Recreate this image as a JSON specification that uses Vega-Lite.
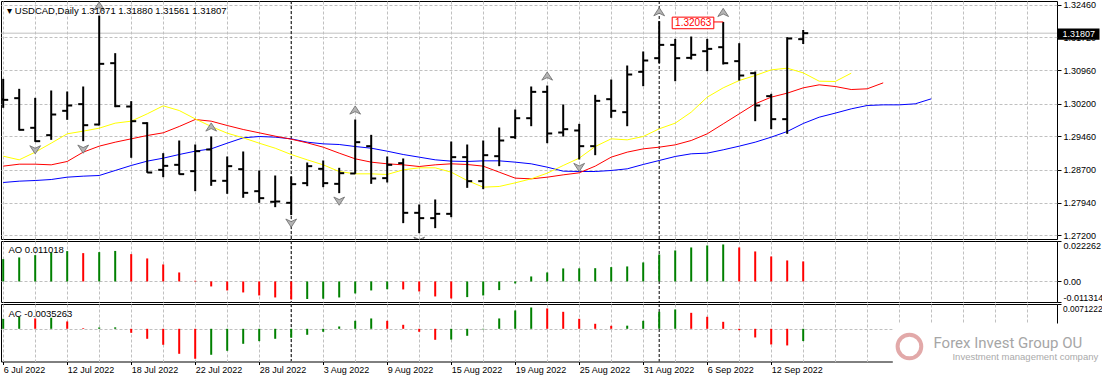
{
"$schema": "https://vega.github.io/schema/vega-lite/v6.json",
"padding": 0,
"background": "#ffffff",
"spacing": 2,
"bounds": "flush",
"datasets": {
"bars": [
{"i":0,"date":"2022-07-06","o":1.30300,"h":1.30767,"l":1.30107,"c":1.30289,"ao":0.01229,"aoT":"up","ac":0.00287,"acT":"up"},
{"i":1,"date":"2022-07-07","o":1.30327,"h":1.30540,"l":1.29591,"c":1.29606,"ao":0.01321,"aoT":"up","ac":0.00345,"acT":"up"},
{"i":2,"date":"2022-07-08","o":1.29652,"h":1.30335,"l":1.29333,"c":1.29348,"ao":0.01449,"aoT":"up","ac":0.00297,"acT":"down"},
{"i":3,"date":"2022-07-11","o":1.29485,"h":1.30502,"l":1.29378,"c":1.29955,"ao":0.01596,"aoT":"up","ac":0.00316,"acT":"up"},
{"i":4,"date":"2022-07-12","o":1.30039,"h":1.30479,"l":1.29834,"c":1.30160,"ao":0.01670,"aoT":"up","ac":0.00211,"acT":"down"},
{"i":5,"date":"2022-07-13","o":1.30191,"h":1.30593,"l":1.29348,"c":1.29712,"ao":0.01559,"aoT":"down","ac":0.00019,"acT":"down"},
{"i":6,"date":"2022-07-14","o":1.29727,"h":1.32209,"l":1.29705,"c":1.31109,"ao":0.01614,"aoT":"up","ac":0.00038,"acT":"up"},
{"i":7,"date":"2022-07-15","o":1.31124,"h":1.31352,"l":1.30122,"c":1.30145,"ao":0.01680,"aoT":"up","ac":0.00042,"acT":"up"},
{"i":8,"date":"2022-07-18","o":1.30137,"h":1.30259,"l":1.28969,"c":1.29803,"ao":0.01504,"aoT":"down","ac":-0.00115,"acT":"down"},
{"i":9,"date":"2022-07-19","o":1.29758,"h":1.29780,"l":1.28627,"c":1.28634,"ao":0.01266,"aoT":"down","ac":-0.00287,"acT":"down"},
{"i":10,"date":"2022-07-20","o":1.28695,"h":1.29075,"l":1.28528,"c":1.28786,"ao":0.00936,"aoT":"down","ac":-0.00459,"acT":"down"},
{"i":11,"date":"2022-07-21","o":1.28809,"h":1.29363,"l":1.28589,"c":1.28597,"ao":0.00495,"aoT":"down","ac":-0.00718,"acT":"down"},
{"i":12,"date":"2022-07-22","o":1.28665,"h":1.29272,"l":1.28209,"c":1.29120,"ao":0.00037,"aoT":"down","ac":-0.00861,"acT":"down"},
{"i":13,"date":"2022-07-25","o":1.29158,"h":1.29454,"l":1.28331,"c":1.28445,"ao":-0.00275,"aoT":"down","ac":-0.00746,"acT":"up"},
{"i":14,"date":"2022-07-26","o":1.28445,"h":1.28999,"l":1.28149,"c":1.28779,"ao":-0.00495,"aoT":"down","ac":-0.00632,"acT":"up"},
{"i":15,"date":"2022-07-27","o":1.28710,"h":1.29113,"l":1.28058,"c":1.28171,"ao":-0.00605,"aoT":"down","ac":-0.00431,"acT":"up"},
{"i":16,"date":"2022-07-28","o":1.28209,"h":1.28680,"l":1.27944,"c":1.28050,"ao":-0.00771,"aoT":"down","ac":-0.00354,"acT":"up"},
{"i":17,"date":"2022-07-29","o":1.27967,"h":1.28566,"l":1.27845,"c":1.27974,"ao":-0.00881,"aoT":"down","ac":-0.00287,"acT":"up"},
{"i":18,"date":"2022-08-01","o":1.27944,"h":1.28543,"l":1.27663,"c":1.28369,"ao":-0.00991,"aoT":"down","ac":-0.00258,"acT":"up"},
{"i":19,"date":"2022-08-02","o":1.28392,"h":1.28862,"l":1.28323,"c":1.28779,"ao":-0.00965,"aoT":"up","ac":-0.00172,"acT":"up"},
{"i":20,"date":"2022-08-03","o":1.28718,"h":1.28908,"l":1.28301,"c":1.28392,"ao":-0.00950,"aoT":"up","ac":-0.00086,"acT":"up"},
{"i":21,"date":"2022-08-04","o":1.28376,"h":1.28741,"l":1.28164,"c":1.28619,"ao":-0.00881,"aoT":"up","ac":0.00067,"acT":"up"},
{"i":22,"date":"2022-08-05","o":1.28612,"h":1.29841,"l":1.28604,"c":1.29325,"ao":-0.00660,"aoT":"up","ac":0.00230,"acT":"up"},
{"i":23,"date":"2022-08-08","o":1.29234,"h":1.29492,"l":1.28376,"c":1.28498,"ao":-0.00495,"aoT":"up","ac":0.00297,"acT":"up"},
{"i":24,"date":"2022-08-09","o":1.28506,"h":1.28999,"l":1.28407,"c":1.28809,"ao":-0.00430,"aoT":"up","ac":0.00230,"acT":"down"},
{"i":25,"date":"2022-08-10","o":1.28847,"h":1.28954,"l":1.27481,"c":1.27716,"ao":-0.00440,"aoT":"down","ac":0.00115,"acT":"down"},
{"i":26,"date":"2022-08-11","o":1.27716,"h":1.27906,"l":1.27253,"c":1.27595,"ao":-0.00550,"aoT":"down","ac":-0.00086,"acT":"down"},
{"i":27,"date":"2022-08-12","o":1.27595,"h":1.28020,"l":1.27367,"c":1.27693,"ao":-0.00826,"aoT":"down","ac":-0.00316,"acT":"down"},
{"i":28,"date":"2022-08-15","o":1.27693,"h":1.29340,"l":1.27617,"c":1.28984,"ao":-0.00936,"aoT":"down","ac":-0.00310,"acT":"up"},
{"i":29,"date":"2022-08-16","o":1.28984,"h":1.29272,"l":1.28285,"c":1.28437,"ao":-0.00862,"aoT":"up","ac":-0.00201,"acT":"up"},
{"i":30,"date":"2022-08-17","o":1.28437,"h":1.29363,"l":1.28255,"c":1.29029,"ao":-0.00771,"aoT":"up","ac":-0.00015,"acT":"up"},
{"i":31,"date":"2022-08-18","o":1.29006,"h":1.29659,"l":1.28779,"c":1.29363,"ao":-0.00477,"aoT":"up","ac":0.00297,"acT":"up"},
{"i":32,"date":"2022-08-19","o":1.29439,"h":1.30069,"l":1.29401,"c":1.29871,"ao":-0.00110,"aoT":"up","ac":0.00526,"acT":"up"},
{"i":33,"date":"2022-08-22","o":1.29871,"h":1.30593,"l":1.29689,"c":1.30471,"ao":0.00275,"aoT":"up","ac":0.00612,"acT":"up"},
{"i":34,"date":"2022-08-23","o":1.30471,"h":1.30615,"l":1.29302,"c":1.29523,"ao":0.00495,"aoT":"up","ac":0.00584,"acT":"down"},
{"i":35,"date":"2022-08-24","o":1.29545,"h":1.30183,"l":1.29454,"c":1.29621,"ao":0.00716,"aoT":"up","ac":0.00488,"acT":"down"},
{"i":36,"date":"2022-08-25","o":1.29591,"h":1.29742,"l":1.28931,"c":1.29234,"ao":0.00722,"aoT":"up","ac":0.00287,"acT":"down"},
{"i":37,"date":"2022-08-26","o":1.29234,"h":1.30403,"l":1.29029,"c":1.30266,"ao":0.00730,"aoT":"up","ac":0.00144,"acT":"down"},
{"i":38,"date":"2022-08-29","o":1.30304,"h":1.30752,"l":1.29879,"c":1.30039,"ao":0.00789,"aoT":"up","ac":0.00086,"acT":"down"},
{"i":39,"date":"2022-08-30","o":1.30008,"h":1.31071,"l":1.29689,"c":1.30866,"ao":0.00826,"aoT":"up","ac":0.00090,"acT":"up"},
{"i":40,"date":"2022-08-31","o":1.30927,"h":1.31390,"l":1.30600,"c":1.31185,"ao":0.01046,"aoT":"up","ac":0.00230,"acT":"up"},
{"i":41,"date":"2022-09-01","o":1.31238,"h":1.32080,"l":1.31124,"c":1.31541,"ao":0.01486,"aoT":"up","ac":0.00488,"acT":"up"},
{"i":42,"date":"2022-09-02","o":1.31541,"h":1.31678,"l":1.30714,"c":1.31238,"ao":0.01706,"aoT":"up","ac":0.00555,"acT":"up"},
{"i":43,"date":"2022-09-05","o":1.31245,"h":1.31731,"l":1.31208,"c":1.31314,"ao":0.01871,"aoT":"up","ac":0.00459,"acT":"down"},
{"i":44,"date":"2022-09-06","o":1.31397,"h":1.31678,"l":1.30942,"c":1.31450,"ao":0.01981,"aoT":"up","ac":0.00345,"acT":"down"},
{"i":45,"date":"2022-09-07","o":1.31488,"h":1.32063,"l":1.31094,"c":1.31124,"ao":0.02036,"aoT":"up","ac":0.00201,"acT":"down"},
{"i":46,"date":"2022-09-08","o":1.31170,"h":1.31579,"l":1.30729,"c":1.30843,"ao":0.01871,"aoT":"down","ac":-0.00040,"acT":"down"},
{"i":47,"date":"2022-09-09","o":1.30896,"h":1.30934,"l":1.29803,"c":1.30160,"ao":0.01651,"aoT":"down","ac":-0.00249,"acT":"down"},
{"i":48,"date":"2022-09-12","o":1.30373,"h":1.30426,"l":1.29621,"c":1.29849,"ao":0.01376,"aoT":"down","ac":-0.00450,"acT":"down"},
{"i":49,"date":"2022-09-13","o":1.29849,"h":1.31716,"l":1.29515,"c":1.31686,"ao":0.01156,"aoT":"down","ac":-0.00478,"acT":"down"},
{"i":50,"date":"2022-09-14","o":1.31671,"h":1.31880,"l":1.31561,"c":1.31807,"ao":0.011018,"aoT":"down","ac":-0.0035263,"acT":"up"}
],
"allig": [
{"i":0,"jaw":1.28407,"teeth":1.28779,"lips":1.29006},
{"i":1,"jaw":1.28437,"teeth":1.28824,"lips":1.28923},
{"i":2,"jaw":1.28452,"teeth":1.28824,"lips":1.29098},
{"i":3,"jaw":1.28475,"teeth":1.28809,"lips":1.29302},
{"i":4,"jaw":1.28528,"teeth":1.28885,"lips":1.29515},
{"i":5,"jaw":1.28551,"teeth":1.29098,"lips":1.29576},
{"i":6,"jaw":1.28566,"teeth":1.29234,"lips":1.29644},
{"i":7,"jaw":1.28680,"teeth":1.29325,"lips":1.29758},
{"i":8,"jaw":1.28794,"teeth":1.29401,"lips":1.29803},
{"i":9,"jaw":1.28893,"teeth":1.29477,"lips":1.29970},
{"i":10,"jaw":1.28961,"teeth":1.29538,"lips":1.30153},
{"i":11,"jaw":1.29044,"teeth":1.29682,"lips":1.30046},
{"i":12,"jaw":1.29120,"teeth":1.29841,"lips":1.29856},
{"i":13,"jaw":1.29173,"teeth":1.29803,"lips":1.29682},
{"i":14,"jaw":1.29302,"teeth":1.29705,"lips":1.29530},
{"i":15,"jaw":1.29424,"teeth":1.29614,"lips":1.29424},
{"i":16,"jaw":1.29454,"teeth":1.29538,"lips":1.29302},
{"i":17,"jaw":1.29439,"teeth":1.29462,"lips":1.29188},
{"i":18,"jaw":1.29401,"teeth":1.29393,"lips":1.29044},
{"i":19,"jaw":1.29325,"teeth":1.29310,"lips":1.28923},
{"i":20,"jaw":1.29287,"teeth":1.29211,"lips":1.28809},
{"i":21,"jaw":1.29272,"teeth":1.29075,"lips":1.28657},
{"i":22,"jaw":1.29226,"teeth":1.28946,"lips":1.28604},
{"i":23,"jaw":1.29188,"teeth":1.28870,"lips":1.28604},
{"i":24,"jaw":1.29120,"teeth":1.28832,"lips":1.28589},
{"i":25,"jaw":1.29044,"teeth":1.28809,"lips":1.28695},
{"i":26,"jaw":1.28984,"teeth":1.28771,"lips":1.28741},
{"i":27,"jaw":1.28923,"teeth":1.28809,"lips":1.28741},
{"i":28,"jaw":1.28893,"teeth":1.28832,"lips":1.28642},
{"i":29,"jaw":1.28885,"teeth":1.28817,"lips":1.28452},
{"i":30,"jaw":1.28900,"teeth":1.28779,"lips":1.28301},
{"i":31,"jaw":1.28900,"teeth":1.28642,"lips":1.28316},
{"i":32,"jaw":1.28870,"teeth":1.28506,"lips":1.28399},
{"i":33,"jaw":1.28832,"teeth":1.28490,"lips":1.28490},
{"i":34,"jaw":1.28756,"teeth":1.28528,"lips":1.28619},
{"i":35,"jaw":1.28665,"teeth":1.28581,"lips":1.28794},
{"i":36,"jaw":1.28657,"teeth":1.28627,"lips":1.28961},
{"i":37,"jaw":1.28657,"teeth":1.28779,"lips":1.29226},
{"i":38,"jaw":1.28680,"teeth":1.28984,"lips":1.29401},
{"i":39,"jaw":1.28718,"teeth":1.29098,"lips":1.29378},
{"i":40,"jaw":1.28817,"teeth":1.29173,"lips":1.29454},
{"i":41,"jaw":1.28908,"teeth":1.29211,"lips":1.29629},
{"i":42,"jaw":1.28999,"teeth":1.29264,"lips":1.29758},
{"i":43,"jaw":1.29060,"teeth":1.29363,"lips":1.30008},
{"i":44,"jaw":1.29075,"teeth":1.29515,"lips":1.30350},
{"i":45,"jaw":1.29151,"teeth":1.29742,"lips":1.30562},
{"i":46,"jaw":1.29234,"teeth":1.29970,"lips":1.30729},
{"i":47,"jaw":1.29325,"teeth":1.30198,"lips":1.30843},
{"i":48,"jaw":1.29439,"teeth":1.30350,"lips":1.30972},
{"i":49,"jaw":1.29568,"teeth":1.30441,"lips":1.31010},
{"i":50,"jaw":1.29750,"teeth":1.30562,"lips":1.30904},
{"i":51,"jaw":1.29894,"teeth":1.30631,"lips":1.30714},
{"i":52,"jaw":1.29986,"teeth":1.30593,"lips":1.30707},
{"i":53,"jaw":1.30084,"teeth":1.30524,"lips":1.30896},
{"i":54,"jaw":1.30160,"teeth":1.30540,"lips":null},
{"i":55,"jaw":1.30175,"teeth":1.30676,"lips":null},
{"i":56,"jaw":1.30175,"teeth":null,"lips":null},
{"i":57,"jaw":1.30198,"teeth":null,"lips":null},
{"i":58,"jaw":1.30312,"teeth":null,"lips":null}
],
"fractals": [
{"i":6,"price":1.32209,"type":"up"},
{"i":13,"price":1.29454,"type":"up"},
{"i":22,"price":1.29841,"type":"up"},
{"i":34,"price":1.30615,"type":"up"},
{"i":41,"price":1.32080,"type":"up"},
{"i":45,"price":1.32063,"type":"up"},
{"i":2,"price":1.29333,"type":"down"},
{"i":5,"price":1.29348,"type":"down"},
{"i":18,"price":1.27663,"type":"down"},
{"i":21,"price":1.28164,"type":"down"},
{"i":26,"price":1.27253,"type":"down"},
{"i":36,"price":1.28931,"type":"down"}
],
"seps": [{"i":18,"month":"Aug 2022"},{"i":41,"month":"Sep 2022"}]
},
"vconcat": [
{
"width": 1056, "height": 238,
"layer": [
{"data": {"values": [{"price": 1.31807}]}, "mark": {"type": "rule", "color": "#c0c0c0", "strokeWidth": 1},
 "encoding": {"y": {"field": "price", "type": "quantitative", "title": null, "scale": {"domain": [1.2712, 1.3254], "nice": false, "zero": false},
  "axis": {"orient": "right", "values": [1.272, 1.2794, 1.287, 1.2946, 1.302, 1.3096, 1.3172, 1.3246], "tickCount": 100, "format": ".5f", "grid": true, "gridColor": "#c0c0c0", "gridDash": [3,2], "domain": false, "ticks": true, "tickSize": 4, "tickColor": "#000000", "labelPadding": 2, "labelOverlap": false, "labelBound": false, "title": null}}}},
{"data": {"name": "seps"}, "mark": {"type": "rule", "color": "#000000", "strokeDash": [3,2], "strokeWidth": 1},
 "encoding": {"x": {"field": "i", "type": "quantitative", "title": null, "scale": {"domain": [-0.1375, 65.8625], "nice": false, "zero": false},
  "axis": {"values": [0,2,4,6,8,10,12,14,16,18,20,22,24,26,28,30,32,34,36,38,40,42,44,46,48,50,52,54,56,58,60,62,64], "tickCount": 100, "grid": true, "gridColor": "#c0c0c0", "gridDash": [3,2], "labels": false, "ticks": false, "domain": false, "labelOverlap": false, "title": null}}}},
{"data": {"name": "allig"}, "mark": {"type": "line", "color": "#0000ff", "strokeWidth": 1, "clip": true},
 "encoding": {"x": {"field": "i", "type": "quantitative", "title": null, "scale": {"domain": [-0.1375, 65.8625], "nice": false, "zero": false}},
  "y": {"field": "jaw", "type": "quantitative", "title": null, "scale": {"domain": [1.2712, 1.3254], "nice": false, "zero": false}}}},
{"data": {"name": "allig"}, "mark": {"type": "line", "color": "#ff0000", "strokeWidth": 1, "clip": true},
 "encoding": {"x": {"field": "i", "type": "quantitative", "title": null, "scale": {"domain": [-0.1375, 65.8625], "nice": false, "zero": false}},
  "y": {"field": "teeth", "type": "quantitative", "title": null, "scale": {"domain": [1.2712, 1.3254], "nice": false, "zero": false}}}},
{"data": {"name": "allig"}, "mark": {"type": "line", "color": "#ffff00", "strokeWidth": 1, "clip": true},
 "encoding": {"x": {"field": "i", "type": "quantitative", "title": null, "scale": {"domain": [-0.1375, 65.8625], "nice": false, "zero": false}},
  "y": {"field": "lips", "type": "quantitative", "title": null, "scale": {"domain": [1.2712, 1.3254], "nice": false, "zero": false}}}},
{"data": {"name": "bars"}, "mark": {"type": "rule", "color": "#000000", "strokeWidth": 2, "clip": true},
 "encoding": {"x": {"field": "i", "type": "quantitative", "title": null, "scale": {"domain": [-0.1375, 65.8625], "nice": false, "zero": false}},
  "y": {"field": "l", "type": "quantitative", "title": null, "scale": {"domain": [1.2712, 1.3254], "nice": false, "zero": false}},
  "y2": {"field": "h"}}},
{"data": {"name": "bars"}, "mark": {"type": "rule", "color": "#000000", "strokeWidth": 2, "xOffset": -5, "x2Offset": 0, "clip": true},
 "encoding": {"x": {"field": "i", "type": "quantitative", "title": null, "scale": {"domain": [-0.1375, 65.8625], "nice": false, "zero": false}},
  "x2": {"field": "i"},
  "y": {"field": "o", "type": "quantitative", "title": null, "scale": {"domain": [1.2712, 1.3254], "nice": false, "zero": false}}}},
{"data": {"name": "bars"}, "mark": {"type": "rule", "color": "#000000", "strokeWidth": 2, "xOffset": 0, "x2Offset": 5, "clip": true},
 "encoding": {"x": {"field": "i", "type": "quantitative", "title": null, "scale": {"domain": [-0.1375, 65.8625], "nice": false, "zero": false}},
  "x2": {"field": "i"},
  "y": {"field": "c", "type": "quantitative", "title": null, "scale": {"domain": [1.2712, 1.3254], "nice": false, "zero": false}}}},
{"data": {"name": "fractals"}, "transform": [{"filter": "datum.type === 'up'"}],
 "mark": {"type": "point", "shape": "M0,-0.65 L0.85,0.65 L0,0.25 L-0.85,0.65 Z", "size": 160, "filled": true, "fill": "#b4b4b4", "stroke": "#6a6a6a", "strokeWidth": 0.8, "opacity": 1, "yOffset": -9.5, "clip": true},
 "encoding": {"x": {"field": "i", "type": "quantitative", "title": null, "scale": {"domain": [-0.1375, 65.8625], "nice": false, "zero": false}},
  "y": {"field": "price", "type": "quantitative", "title": null, "scale": {"domain": [1.2712, 1.3254], "nice": false, "zero": false}}}},
{"data": {"name": "fractals"}, "transform": [{"filter": "datum.type === 'down'"}],
 "mark": {"type": "point", "shape": "M0,0.65 L0.85,-0.65 L0,-0.25 L-0.85,-0.65 Z", "size": 160, "filled": true, "fill": "#b4b4b4", "stroke": "#6a6a6a", "strokeWidth": 0.8, "opacity": 1, "yOffset": 8, "clip": true},
 "encoding": {"x": {"field": "i", "type": "quantitative", "title": null, "scale": {"domain": [-0.1375, 65.8625], "nice": false, "zero": false}},
  "y": {"field": "price", "type": "quantitative", "title": null, "scale": {"domain": [1.2712, 1.3254], "nice": false, "zero": false}}}},
{"data": {"values": [{"i": 45, "price": 1.32063, "label": "1.32063"}]},
 "mark": {"type": "point", "shape": "M-1,-0.094 L-0.184,-0.094 L-0.184,0.133 L-1,0.133 Z M-0.184,0 L0,0", "size": 10404, "filled": false, "fill": "#ffffff", "fillOpacity": 1, "stroke": "#ff0000", "strokeWidth": 1, "opacity": 1},
 "encoding": {"x": {"field": "i", "type": "quantitative", "title": null, "scale": {"domain": [-0.1375, 65.8625], "nice": false, "zero": false}},
  "y": {"field": "price", "type": "quantitative", "title": null, "scale": {"domain": [1.2712, 1.3254], "nice": false, "zero": false}}}},
{"data": {"values": [{"i": 45, "price": 1.32063, "label": "1.32063"}]},
 "mark": {"type": "text", "color": "#ff0000", "font": "Liberation Sans", "fontSize": 10, "align": "center", "baseline": "middle", "xOffset": -30, "yOffset": 1},
 "encoding": {"x": {"field": "i", "type": "quantitative", "title": null, "scale": {"domain": [-0.1375, 65.8625], "nice": false, "zero": false}},
  "y": {"field": "price", "type": "quantitative", "title": null, "scale": {"domain": [1.2712, 1.3254], "nice": false, "zero": false}},
  "text": {"field": "label"}}},
{"data": {"values": [{"label": "▾ USDCAD,Daily  1.31671 1.31880 1.31561 1.31807"}]},
 "mark": {"type": "text", "color": "#000000", "font": "Liberation Sans", "fontSize": 9.5, "align": "left", "baseline": "alphabetic"},
 "encoding": {"x": {"datum": 0.25, "type": "quantitative", "title": null, "scale": {"domain": [-0.1375, 65.8625], "nice": false, "zero": false}},
  "y": {"datum": 1.32244, "type": "quantitative", "title": null, "scale": {"domain": [1.2712, 1.3254], "nice": false, "zero": false}},
  "text": {"field": "label"}}},
{"data": {"values": [{"price": 1.31807, "label": "1.31807"}]},
 "mark": {"type": "point", "shape": "M-1,-0.27 L1,-0.27 L1,0.27 L-1,0.27 Z", "size": 1764, "filled": true, "fill": "#000000", "opacity": 1, "xOffset": 21.5, "yOffset": 1},
 "encoding": {"x": {"value": "width"},
  "y": {"field": "price", "type": "quantitative", "title": null, "scale": {"domain": [1.2712, 1.3254], "nice": false, "zero": false}}}},
{"data": {"values": [{"price": 1.31807, "label": "1.31807"}]},
 "mark": {"type": "text", "color": "#ffffff", "font": "Liberation Sans", "fontSize": 9, "align": "left", "baseline": "middle", "dx": 5.5, "yOffset": 1},
 "encoding": {"x": {"value": "width"},
  "y": {"field": "price", "type": "quantitative", "title": null, "scale": {"domain": [1.2712, 1.3254], "nice": false, "zero": false}},
  "text": {"field": "label"}}}
]
},
{
"width": 1056, "height": 61,
"layer": [
{"data": {"name": "seps"}, "mark": {"type": "rule", "color": "#000000", "strokeDash": [3,2], "strokeWidth": 1},
 "encoding": {"x": {"field": "i", "type": "quantitative", "title": null, "scale": {"domain": [-0.1375, 65.8625], "nice": false, "zero": false},
  "axis": {"values": [0,2,4,6,8,10,12,14,16,18,20,22,24,26,28,30,32,34,36,38,40,42,44,46,48,50,52,54,56,58,60,62,64], "tickCount": 100, "grid": true, "gridColor": "#c0c0c0", "gridDash": [3,2], "labels": false, "ticks": false, "domain": false, "labelOverlap": false, "title": null}}}},
{"data": {"name": "bars"}, "mark": {"type": "rule", "strokeWidth": 2},
 "encoding": {"x": {"field": "i", "type": "quantitative", "title": null, "scale": {"domain": [-0.1375, 65.8625], "nice": false, "zero": false}},
  "y": {"field": "ao", "type": "quantitative", "title": null, "scale": {"domain": [-0.011314, 0.022262], "nice": false, "zero": false},
   "axis": {"orient": "right", "values": [-0.011314, 0, 0.022262], "tickCount": 100, "labelExpr": "datum.value === 0 ? '0.00' : (datum.value < 0 ? '-' + format(-datum.value, '.6f') : format(datum.value, '.6f'))", "labelFlush": true, "labelOverlap": false, "labelBound": false, "grid": true, "gridColor": "#c0c0c0", "gridDash": [3,2], "gridOpacity": {"condition": {"test": "datum.value === 0", "value": 1}, "value": 0}, "domain": false, "tickSize": 4, "tickColor": "#000000", "labelPadding": 2, "title": null}},
  "y2": {"datum": 0},
  "color": {"field": "aoT", "type": "nominal", "scale": {"domain": ["up", "down"], "range": ["#008000", "#ff0000"]}, "legend": null}}},
{"data": {"values": [{"label": "AO 0.011018"}]},
 "mark": {"type": "text", "color": "#000000", "font": "Liberation Sans", "fontSize": 9.5, "align": "left", "baseline": "alphabetic"},
 "encoding": {"x": {"datum": 0.33, "type": "quantitative", "title": null, "scale": {"domain": [-0.1375, 65.8625], "nice": false, "zero": false}},
  "y": {"datum": 0.015547, "type": "quantitative", "title": null, "scale": {"domain": [-0.011314, 0.022262], "nice": false, "zero": false}},
  "text": {"field": "label"}}}
]
},
{
"width": 1056, "height": 57.5,
"layer": [
{"data": {"name": "seps"}, "mark": {"type": "rule", "color": "#000000", "strokeDash": [3,2], "strokeWidth": 1},
 "encoding": {"x": {"field": "i", "type": "quantitative", "title": null, "scale": {"domain": [-0.1375, 65.8625], "nice": false, "zero": false},
  "axis": {"values": [0,2,4,6,8,10,12,14,16,18,20,22,24,26,28,30,32,34,36,38,40,42,44,46,48,50,52,54,56,58,60,62,64], "tickCount": 100, "grid": true, "gridColor": "#c0c0c0", "gridDash": [3,2], "domain": false, "ticks": true, "tickSize": 3, "tickColor": "#000000", "tickOpacity": {"condition": {"test": "datum.value % 4 === 0 && datum.value <= 48", "value": 1}, "value": 0}, "labelExpr": "datum.value % 4 === 0 && datum.value <= 48 ? ['6 Jul 2022','12 Jul 2022','18 Jul 2022','22 Jul 2022','28 Jul 2022','3 Aug 2022','9 Aug 2022','15 Aug 2022','19 Aug 2022','25 Aug 2022','31 Aug 2022','6 Sep 2022','12 Sep 2022'][datum.value / 4] : ''", "labelAlign": "left", "labelBaseline": "top", "labelPadding": 1, "labelOverlap": false, "labelBound": false, "labelFlush": false, "title": null}}}},
{"data": {"name": "bars"}, "mark": {"type": "rule", "strokeWidth": 2},
 "encoding": {"x": {"field": "i", "type": "quantitative", "title": null, "scale": {"domain": [-0.1375, 65.8625], "nice": false, "zero": false}},
  "y": {"field": "ac", "type": "quantitative", "title": null, "scale": {"domain": [-0.009391, 0.0071222], "nice": false, "zero": false},
   "axis": {"orient": "right", "values": [0.0071222, 0], "tickCount": 100, "labelExpr": "datum.value === 0 ? '' : format(datum.value, '.7f')", "labelFlush": true, "labelOverlap": false, "labelBound": false, "labelFontSize": 8.4, "grid": true, "gridColor": "#c0c0c0", "gridDash": [3,2], "gridOpacity": {"condition": {"test": "datum.value === 0", "value": 1}, "value": 0}, "tickOpacity": {"condition": {"test": "datum.value === 0", "value": 0}, "value": 1}, "domain": false, "tickSize": 4, "tickColor": "#000000", "labelPadding": 1.5, "title": null}},
  "y2": {"datum": 0},
  "color": {"field": "acT", "type": "nominal", "scale": {"domain": ["up", "down"], "range": ["#008000", "#ff0000"]}, "legend": null}}},
{"data": {"values": [{"label": "AC -0.0035263"}]},
 "mark": {"type": "text", "color": "#000000", "font": "Liberation Sans", "fontSize": 9.5, "align": "left", "baseline": "alphabetic"},
 "encoding": {"x": {"datum": 0.33, "type": "quantitative", "title": null, "scale": {"domain": [-0.1375, 65.8625], "nice": false, "zero": false}},
  "y": {"datum": 0.00353, "type": "quantitative", "title": null, "scale": {"domain": [-0.009391, 0.0071222], "nice": false, "zero": false}},
  "text": {"field": "label"}}},
{"data": {"values": [{"label": "Forex Invest Group OU"}]}, "mark": {"type": "rect", "color": "#ffffff", "opacity": 1},
 "encoding": {"x": {"datum": 55.6, "type": "quantitative", "title": null, "scale": {"domain": [-0.1375, 65.8625], "nice": false, "zero": false}},
  "x2": {"datum": 69.5},
  "y": {"datum": 0.00152, "type": "quantitative", "title": null, "scale": {"domain": [-0.009391, 0.0071222], "nice": false, "zero": false}},
  "y2": {"datum": -0.0175}}},
{"data": {"values": [{"label": "Forex Invest Group OU"}]}, "mark": {"type": "point", "shape": "circle", "size": 560, "filled": false, "stroke": "#e2a9a9", "strokeWidth": 4, "opacity": 1},
 "encoding": {"x": {"datum": 56.64, "type": "quantitative", "title": null, "scale": {"domain": [-0.1375, 65.8625], "nice": false, "zero": false}},
  "y": {"datum": -0.00508, "type": "quantitative", "title": null, "scale": {"domain": [-0.009391, 0.0071222], "nice": false, "zero": false}}}},
{"data": {"values": [{"label": "Forex Invest Group OU"}]}, "mark": {"type": "text", "color": "#a6a6a6", "font": "Roboto", "fontSize": 15, "align": "left", "baseline": "middle"},
 "encoding": {"x": {"datum": 58.14, "type": "quantitative", "title": null, "scale": {"domain": [-0.1375, 65.8625], "nice": false, "zero": false}},
  "y": {"datum": -0.00422, "type": "quantitative", "title": null, "scale": {"domain": [-0.009391, 0.0071222], "nice": false, "zero": false}},
  "text": {"field": "label"}}},
{"data": {"values": [{"label": "Investment management company"}]}, "mark": {"type": "text", "color": "#aaaaaa", "font": "Liberation Sans", "fontSize": 9.5, "align": "left", "baseline": "middle"},
 "encoding": {"x": {"datum": 59.33, "type": "quantitative", "title": null, "scale": {"domain": [-0.1375, 65.8625], "nice": false, "zero": false}},
  "y": {"datum": -0.00796, "type": "quantitative", "title": null, "scale": {"domain": [-0.009391, 0.0071222], "nice": false, "zero": false}},
  "text": {"field": "label"}}}
]
}
],
"config": {
"view": {"stroke": "#000000", "strokeWidth": 1},
"axis": {"labelFont": "Liberation Sans", "labelFontSize": 9, "labelColor": "#000000", "labelOverlap": false}
}
}
